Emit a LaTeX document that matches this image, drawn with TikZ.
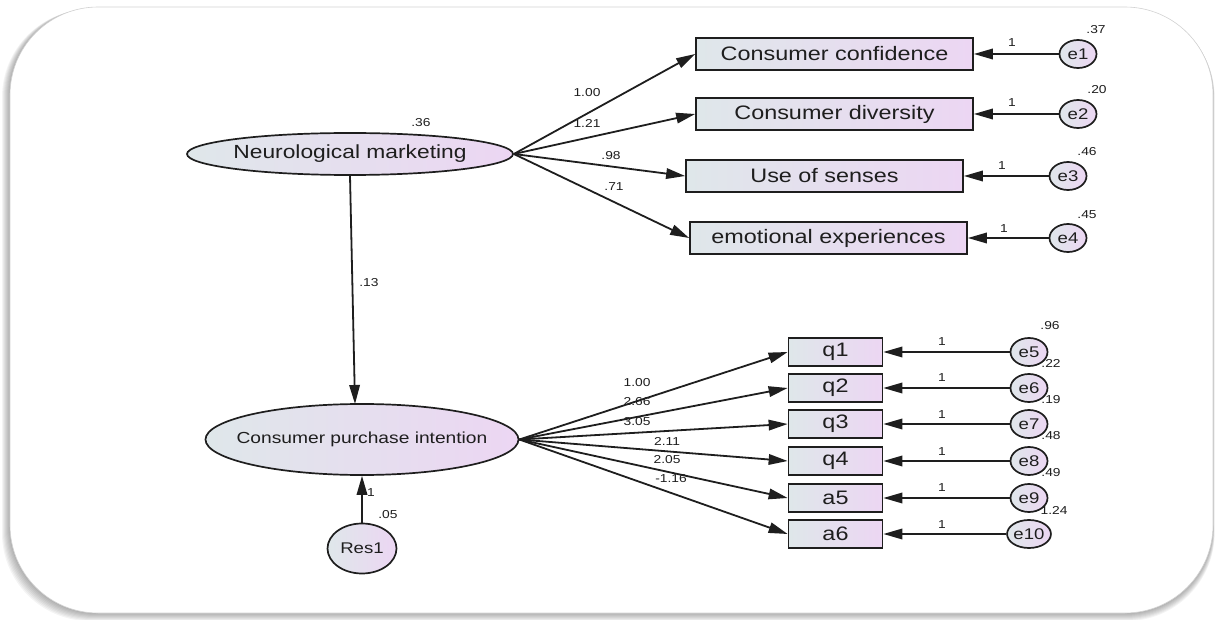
\documentclass[tikz,border=0pt]{standalone}
\usepackage{fontspec}
\setmainfont[FakeStretch=1.2]{Liberation Sans}
\usetikzlibrary{shapes.geometric,arrows.meta}
\definecolor{cl}{HTML}{DFE7EA}
\definecolor{cr}{HTML}{ECD6F3}
\definecolor{ink}{HTML}{1E1E1E}
\newcommand{\fsz}[1]{\fontsize{#1}{#1}\selectfont}
\tikzset{
  lat/.style={ellipse, draw=ink, line width=1.7pt, left color=cl, right color=cr, inner sep=0pt, text=ink},
  obs/.style={rectangle, draw=ink, line width=1.7pt, left color=cl, right color=cr, inner sep=0pt, text=ink, font=\fsz{19.5}},
  err/.style={ellipse, draw=ink, line width=1.7pt, left color=cl, right color=cr, inner sep=0pt, text=ink, font=\fsz{15.5}, minimum width=37pt, minimum height=28pt},
  lbl/.style={inner sep=0pt, text=ink, font=\fsz{11.5}},
  pth/.style={draw=ink, line width=1.8pt, -{Triangle[length=19pt,width=10.5pt]}}
}
\begin{document}
\begin{tikzpicture}[x=1pt,y=-1pt]
\useasboundingbox (0,0) rectangle (1221,620);
% frame with shadow
\foreach \d in {1,...,8}{
  \fill[black, opacity=0.045, rounded corners=88pt] (10-\d,7+0.3*\d) rectangle (1213+0.2*\d,613+\d);
}
\fill[white, rounded corners=88pt] (10,7) rectangle (1213,613);
\draw[gray!35, line width=0.6pt, rounded corners=88pt] (10,7) rectangle (1213,613);

% latent variables
\node[lat, font=\fsz{19}, inner xsep=-4pt, minimum width=326pt, minimum height=42pt] (NM) at (350,154) {Neurological marketing};
\node[lat, font=\fsz{16}, inner xsep=-25pt, minimum width=313pt, minimum height=71pt] (CPI) at (362,439.5) {Consumer purchase intention};
\node[lat, font=\fsz{15.5}, minimum width=69pt, minimum height=50pt] (R1) at (362,548.5) {Res1};
\coordinate (CPItop) at (355,404);

% top indicators
\node[obs, minimum width=277pt, minimum height=32pt] (B1) at (834.5,54) {Consumer confidence};
\node[obs, minimum width=277pt, minimum height=32pt] (B2) at (834.5,114) {Consumer diversity};
\node[obs, minimum width=277pt, minimum height=32pt] (B3) at (824.5,176) {Use of senses};
\node[obs, minimum width=277pt, minimum height=32pt] (B4) at (828.5,238) {emotional experiences};

% top errors
\node[err] (e1) at (1078,54) {e1};
\node[err] (e2) at (1078,114) {e2};
\node[err] (e3) at (1068,176) {e3};
\node[err] (e4) at (1068,238) {e4};

% bottom indicators
\node[obs, minimum width=94pt, minimum height=28pt] (q1) at (835.5,352) {q1};
\node[obs, minimum width=94pt, minimum height=28pt] (q2) at (835.5,388) {q2};
\node[obs, minimum width=94pt, minimum height=28pt] (q3) at (835.5,424) {q3};
\node[obs, minimum width=94pt, minimum height=28pt] (q4) at (835.5,461) {q4};
\node[obs, minimum width=94pt, minimum height=28pt] (a5) at (835.5,498) {a5};
\node[obs, minimum width=94pt, minimum height=28pt] (a6) at (835.5,534) {a6};

% bottom errors
\node[err] (e5) at (1029,352) {e5};
\node[err] (e6) at (1029,388) {e6};
\node[err] (e7) at (1029,424) {e7};
\node[err] (e8) at (1029,461) {e8};
\node[err] (e9) at (1029,498) {e9};
\node[err, minimum width=41pt] (e10) at (1029,534) {e10};

% structural paths
\draw[pth] (NM.south) -- (CPItop);
\draw[pth] (R1.north) -- (CPI.south -| R1.north);

% loadings top
\foreach \b in {B1,B2,B3,B4}{ \draw[pth] (NM.east) -- (\b.west); }
% loadings bottom
\foreach \b in {q1,q2,q3,q4,a5,a6}{ \draw[pth] (CPI.east) -- (\b.west); }

% error paths
\draw[pth] (e1.west) -- (e1.west -| B1.east);
\draw[pth] (e2.west) -- (e2.west -| B2.east);
\draw[pth] (e3.west) -- (e3.west -| B3.east);
\draw[pth] (e4.west) -- (e4.west -| B4.east);
\draw[pth] (e5.west) -- (e5.west -| q1.east);
\draw[pth] (e6.west) -- (e6.west -| q2.east);
\draw[pth] (e7.west) -- (e7.west -| q3.east);
\draw[pth] (e8.west) -- (e8.west -| q4.east);
\draw[pth] (e9.west) -- (e9.west -| a5.east);
\draw[pth] (e10.west) -- (e10.west -| a6.east);

% labels
\node[lbl] (lNM) at (421,123) {.36};
\node[lbl] (l13) at (369,283) {.13};
\node[lbl] (lR1) at (371,493) {1};
\node[lbl] (lR1v) at (388,515) {.05};

\node[lbl] (t1) at (587,93) {1.00};
\node[lbl] (t2) at (587,123) {1.21};
\node[lbl] (t3) at (611,156) {.98};
\node[lbl] (t4) at (614,187) {.71};

\node[lbl] (u1) at (1012,43) {1};
\node[lbl] (u2) at (1012,103) {1};
\node[lbl] (u3) at (1002,166) {1};
\node[lbl] (u4) at (1004,229) {1};
\node[lbl] (v1) at (1096,30) {.37};
\node[lbl] (v2) at (1097,90) {.20};
\node[lbl] (v3) at (1087,152) {.46};
\node[lbl] (v4) at (1087,215) {.45};

\node[lbl] (s1) at (637,383) {1.00};
\node[lbl] (s2) at (637,402) {2.66};
\node[lbl] (s3) at (637,422) {3.05};
\node[lbl] (s4) at (667,441) {2.11};
\node[lbl] (s5) at (667,460) {2.05};
\node[lbl] (s6) at (671,479) {-1.16};

\node[lbl] (w5) at (942,342) {1};
\node[lbl] (w6) at (942,378) {1};
\node[lbl] (w7) at (942,415) {1};
\node[lbl] (w8) at (942,452) {1};
\node[lbl] (w9) at (942,488) {1};
\node[lbl] (w10) at (942,525) {1};
\node[lbl] (x5) at (1050,326) {.96};
\node[lbl] (x6) at (1051,363) {.22};
\node[lbl] (x7) at (1051,400) {.19};
\node[lbl] (x8) at (1051,436) {.48};
\node[lbl] (x9) at (1051,473) {.49};
\node[lbl] (x10) at (1054,510) {1.24};
\end{tikzpicture}
\end{document}
